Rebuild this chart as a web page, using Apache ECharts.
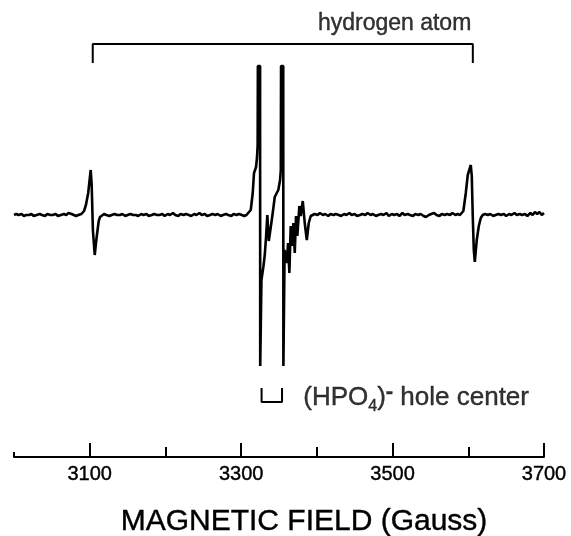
<!DOCTYPE html>
<html>
<head>
<meta charset="utf-8">
<script src="https://cdn.jsdelivr.net/npm/echarts@6/dist/echarts.min.js"></script>
<style>
  html, body { margin: 0; padding: 0; background: #fff; }
  #chart { width: 571px; height: 536px; }
</style>
</head>
<body>
<div id="chart"></div>
<script>
// EPR spectrum, field in Gauss, signal in arbitrary units (0 = baseline)
const baseLeft = [
  [3000, 0], [3003, 1], [3006, 0], [3010, 1], [3013, -1], [3016, 0], [3020, 0], [3023, 1],
  [3026, -1], [3030, 0], [3034, 1], [3037, 0], [3041, -1], [3044, 1], [3048, 0], [3051, 0],
  [3055, 1], [3058, -1], [3062, 0], [3066, 1], [3069, 0], [3072, 2], [3074, 4], [3076, 1],
  [3079, 0], [3082, -1], [3085, 0], [3087, 1]
];
// low-field hydrogen line
const hydrogenLow = [
  [3089, 1], [3092.5, 4], [3095, 10], [3098, 22], [3101.3, 45], [3102.6, 30], [3104.2, -15],
  [3106.6, -40], [3108, -30], [3109.2, -22], [3111.9, -6], [3113.6, -2]
];
const baseMid1 = [
  [3116, 0], [3119, 1], [3122, 0], [3126, -1], [3129, 0], [3133, 1], [3136, 0], [3140, 0],
  [3143, 1], [3147, -1], [3150, 0], [3154, 1], [3157, 0], [3161, 0], [3164, -1], [3168, 1],
  [3171, 0], [3175, 1], [3178, -1], [3182, 0], [3185, 1], [3189, 0], [3192, 0], [3196, 1],
  [3199, -1], [3203, 1], [3206, 0], [3210, 2], [3213, 0], [3217, -1], [3220, 1], [3224, 0],
  [3227, 1], [3231, 0], [3234, -1], [3238, 1], [3241, 0], [3245, 2], [3248, 0], [3252, 1],
  [3255, -1], [3259, 0], [3262, 1], [3266, 0], [3269, 1], [3273, -1], [3276, 0], [3280, 1],
  [3283, 0], [3287, -1], [3290, 1], [3294, 0], [3297, 1], [3301, 0], [3304, -1], [3307, 0]
];
// (HPO4)- hole center, two saturated lines plus structure
const holeCenter = [
  [3309.5, 0], [3312.7, 5], [3315.3, 22], [3317, 42], [3319.7, 48], [3321.0, 58], [3321.8, 70],
  [3322.1, 149], [3325.0, 149], [3325.2, -151], [3326.4, -151], [3326.8, -65],
  [3329.3, -52], [3331.2, -40], [3332.9, -22], [3334.6, 0], [3336.5, -26], [3338.2, -17],
  [3339.9, -8], [3341.7, 2], [3344.4, 18], [3347, 22], [3349.1, 25], [3351.4, 35], [3352.4, 45],
  [3352.7, 149], [3355.6, 149], [3355.8, -151], [3357.0, -151], [3357.4, -35],
  [3360.2, -48], [3362, -28], [3363.7, -58], [3365.5, -11], [3367.2, -31], [3369, -8],
  [3370.8, -38], [3372.5, -1], [3374.2, -21], [3376.9, 9], [3378.7, -1], [3381.4, 14],
  [3384, -8], [3386.7, -25], [3389.3, -8], [3391.9, -1]
];
const baseMid2 = [
  [3394, 0], [3397, 1], [3401, 0], [3404, 2], [3408, 0], [3411, 1], [3415, -1], [3418, 1],
  [3422, 0], [3425, 1], [3429, 0], [3432, -1], [3436, 1], [3439, 0], [3443, 2], [3446, 0],
  [3450, 1], [3453, -1], [3457, 0], [3460, 1], [3464, 0], [3467, 2], [3471, 0], [3474, 1],
  [3478, -1], [3481, 0], [3485, 1], [3488, 0], [3492, 2], [3495, -1], [3499, 1], [3502, 0],
  [3506, 1], [3509, -1], [3513, 2], [3516, 0], [3520, 1], [3523, 0], [3527, -1], [3530, 1],
  [3534, 0], [3537, 1], [3541, -1], [3544, -2], [3548, 0], [3551, 1], [3555, 2], [3558, 0],
  [3562, -1], [3565, 1], [3569, 0], [3572, 1], [3576, 0], [3579, 2], [3583, 0], [3586, 1],
  [3589, 0]
];
// high-field hydrogen line
const hydrogenHigh = [
  [3591.4, 0], [3593.5, 4], [3596.7, 22], [3599.3, 40], [3603.3, 50], [3604.6, 39],
  [3605.9, -1], [3607.3, -35], [3608.6, -47], [3611.2, -25], [3613.9, -11], [3616.5, -3]
];
const baseRight = [
  [3619, 0], [3622, 1], [3626, 0], [3629, 1], [3633, -1], [3636, 0], [3640, 1], [3643, 0],
  [3647, 1], [3650, -1], [3654, 1], [3657, 0], [3661, 2], [3664, 0], [3668, 1], [3671, 0],
  [3675, 1], [3678, -1], [3682, 2], [3685, 0], [3688, 3], [3691, 1], [3694, 3], [3697, 0],
  [3700, 2]
];

// line positions marked by the brackets
const hydrogenPair = [3104, 3606];
const holePair = [3327, 3354];

const majorTicks = [3100, 3300, 3500, 3700];
const minorTicks = [3200, 3400, 3600];

const spectrum = [].concat(baseLeft, hydrogenLow, baseMid1, holeCenter, baseMid2, hydrogenHigh, baseRight);

const font = "'Liberation Sans', Arial, sans-serif";
// scanned lettering is a little heavier than the plain face
const ink = { color: '#000', fontFamily: font, textBorderColor: '#000', textBorderWidth: 0.4 };

function bracket(pair, y0, y1) {
  return [[pair[0], y0], [pair[0], y1], [pair[1], y1], [pair[1], y0]];
}

const chart = echarts.init(document.getElementById('chart'));

const axisBase = {
  type: 'value',
  min: 3000,
  max: 3700,
  position: 'bottom',
  splitLine: { show: false },
  axisLine: { show: false, onZero: false },
  axisLabel: { show: false }
};

const tickStyle = { color: '#000', width: 2 };

chart.setOption({
  animation: false,
  backgroundColor: '#fff',
  grid: { left: 14, right: 27, top: 10, bottom: 79, outerBoundsMode: 'none' },
  xAxis: [
    {
      ...axisBase,
      axisLine: { show: true, onZero: false, lineStyle: { color: '#000', width: 2 } },
      axisTick: { show: true, inside: true, length: 14, customValues: majorTicks, lineStyle: tickStyle },
      axisLabel: {
        show: true, customValues: majorTicks, margin: 7,
        formatter: v => String(v),
        fontSize: 20, ...ink
      },
      name: 'MAGNETIC FIELD (Gauss)',
      nameLocation: 'middle',
      nameGap: 50,
      nameTextStyle: { fontSize: 30, ...ink, padding: [0, 0, 0, 50] }
    },
    {
      ...axisBase,
      axisTick: { show: true, inside: true, length: 10, customValues: minorTicks, lineStyle: tickStyle }
    },
    {
      ...axisBase,
      axisTick: { show: true, inside: true, length: 5, customValues: [3000], lineStyle: tickStyle }
    }
  ],
  yAxis: { type: 'value', min: -242, max: 205, show: false },
  series: [
    {
      name: 'spectrum',
      type: 'line',
      data: spectrum,
      symbol: 'none',
      clip: false,
      lineStyle: { color: '#000', width: 2.6 }
    },
    {
      name: 'hydrogen bracket',
      type: 'line',
      data: bracket(hydrogenPair, 152, 171),
      symbol: 'none',
      clip: false,
      lineStyle: { color: '#000', width: 2 }
    },
    {
      name: 'hole bracket',
      type: 'line',
      data: bracket(holePair, -173, -187),
      symbol: 'none',
      clip: false,
      lineStyle: { color: '#000', width: 2 }
    },
    {
      name: 'labels',
      type: 'scatter',
      symbolSize: 0,
      silent: true,
      clip: false,
      data: [
        {
          value: [3604, 191],
          label: {
            show: true, position: 'left', distance: 0,
            formatter: 'hydrogen atom', fontSize: 23, ...ink
          }
        },
        {
          value: [3382, -183],
          label: {
            show: true, position: 'right', distance: 0,
            formatter: '{a|(HPO}{s|4}{a|)}{p|-}{a| hole center}',
            rich: {
              a: { fontSize: 26, lineHeight: 34, ...ink },
              s: { fontSize: 16, lineHeight: 22, verticalAlign: 'bottom', ...ink },
              p: { fontSize: 22, fontWeight: 'bold', lineHeight: 16, verticalAlign: 'top', ...ink }
            }
          }
        }
      ]
    }
  ]
});
</script>
</body>
</html>
